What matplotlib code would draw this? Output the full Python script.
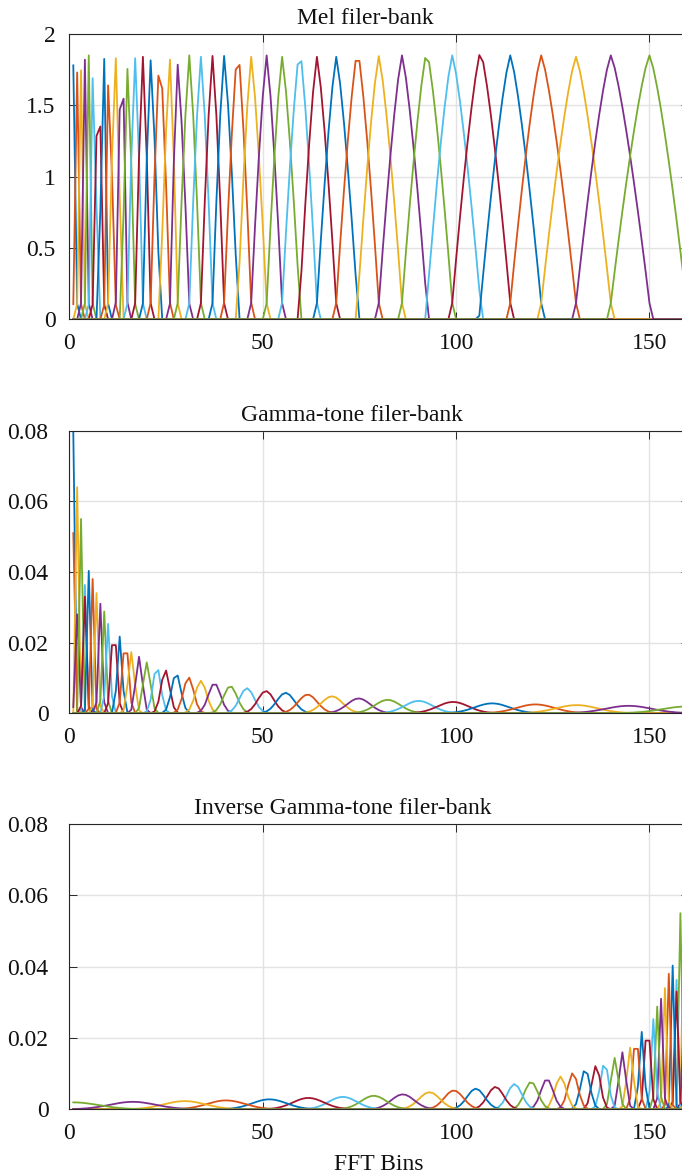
import numpy as np
import matplotlib
matplotlib.use("Agg")
import matplotlib.pyplot as plt

# FFT bin axis (MATLAB 1-based index)
BINS = np.arange(1, 162)

# Mel filters: apex bin and apex value
MEL_CENTER = [1, 2, 3, 4, 5, 6, 7.55, 9, 10, 12, 13.55, 15, 17, 19, 21, 23.4,
              26, 28, 31, 34, 37, 40, 43.55, 47, 51, 55, 59.55, 64, 69, 74.5,
              80, 86, 92.4, 99, 106.3, 114, 122, 131, 140, 150]
MEL_APEX = [1.78, 1.73, 1.745, 1.82, 1.85, 1.69, 1.7, 1.825, 1.64, 1.83, 1.945,
            1.755, 1.83, 1.84, 1.815, 1.88, 1.82, 1.785, 1.85, 1.84, 1.846,
            1.846, 1.91, 1.84, 1.85, 1.84, 1.9, 1.84, 1.84, 1.89, 1.845, 1.85,
            1.88, 1.85, 1.88, 1.85, 1.85, 1.84, 1.85, 1.85]
MEL_EDGES = (0.0, 159.6)      # outer feet of first / last filter
MEL_OVERLAP = 0.05            # feet reach a bit past the neighbour apex
MEL_BULGE = 1.3               # flanks are slightly rounded, not straight

# Gamma-tone filters: centre bin, peak, bandwidth (FWHM in bins)
GAMMA_CENTER = [1, 1, 2, 2, 3, 4, 4, 5, 6, 7, 8, 9, 10, 11.5, 13, 14.5, 16,
                18, 20, 22.6, 24.8, 27.6, 30.8, 34.0, 37.5, 41.6, 45.9, 50.8,
                55.9, 61.6, 67.9, 74.8, 82.3, 90.3, 99.2, 109.3, 120.5, 131.2,
                144.6, 160.0]
GAMMA_PEAK = [0.0795, 0.051, 0.064, 0.028, 0.055, 0.0363, 0.033, 0.0403,
              0.038, 0.034, 0.031, 0.0288, 0.0253, 0.0245, 0.0217, 0.021,
              0.0173, 0.016, 0.0144, 0.0132, 0.0123, 0.0113, 0.0102, 0.0092,
              0.0085, 0.0077, 0.0071, 0.0063, 0.0058, 0.0053, 0.0048, 0.0042,
              0.0038, 0.0035, 0.0032, 0.0028, 0.0025, 0.0023, 0.0021, 0.00195]
GAMMA_FWHM = [0.6, 0.7, 0.65, 1.0, 0.7, 0.9, 1.0, 0.85, 0.9, 1.0, 1.1, 1.15,
              1.3, 1.7, 1.5, 1.8, 1.9, 2.0, 2.2, 2.4, 2.6, 2.8, 3.1, 3.4, 3.7,
              4.1, 4.4, 4.9, 5.3, 5.8, 6.4, 7.0, 7.7, 8.5, 9.4, 10.4, 11.5,
              12.7, 14.0, 15.5]
MIRROR = 161                  # inverse bank = gamma-tone bank flipped in bins

TITLES = ["Mel filer-bank", "Gamma-tone filer-bank",
          "Inverse Gamma-tone filer-bank"]
TITLE_X = [0.479, 0.456, 0.441]

# MATLAB default colour order
COLORS = ["#0072BD", "#D95319", "#EDB120", "#7E2F8E",
          "#77AC30", "#4DBEEE", "#A2142F"]
AX_COLOR = "#262626"
GRID = "#e2e2e2"

plt.rcParams["font.family"] = ["Liberation Serif", "DejaVu Serif"]


def mel_bank():
    edges = [MEL_EDGES[0]] + list(MEL_CENTER) + [MEL_EDGES[1]]
    out = []
    for i, (c, h) in enumerate(zip(MEL_CENTER, MEL_APEX)):
        lo, hi = edges[i], edges[i + 2]
        l = lo - MEL_OVERLAP * (c - lo)
        r = hi + MEL_OVERLAP * (hi - c)
        t = np.where(BINS <= c, (BINS - l) / (c - l), (r - BINS) / (r - c))
        t = np.clip(t, 0, 1)
        out.append(h * (1 - (1 - t) ** MEL_BULGE))
    return out


def gamma_bank(centers):
    out = []
    for c, h, w in zip(centers, GAMMA_PEAK, GAMMA_FWHM):
        s = w / 2.355
        out.append(h * np.exp(-0.5 * ((BINS - c) / s) ** 2))
    return out


def style(ax, yticks, ylabels, ypad):
    ax.set_xlim(0, 160)
    ax.set_ylim(yticks[0], yticks[-1])
    ax.set_xticks([0, 50, 100, 150])
    ax.set_yticks(yticks)
    ax.set_yticklabels(ylabels)
    ax.grid(True, color=GRID, linewidth=1.0)
    ax.set_axisbelow(True)
    for s in ax.spines.values():
        s.set_color(AX_COLOR)
        s.set_linewidth(0.8)
    ax.tick_params(direction="in", length=5.4, width=0.7, top=True,
                   right=True, colors=AX_COLOR, labelsize=17,
                   labelcolor="#111111")
    ax.tick_params(axis="y", pad=ypad)
    ax.tick_params(axis="x", pad=10)


fig = plt.figure(figsize=(6.82, 11.76), dpi=100, facecolor="white")
left, width = 0.1018, 0.9072
boxes = [(0.7285, 0.2426), (0.3935, 0.2403), (0.0567, 0.2426)]
axes = [fig.add_axes([left, b, width, h]) for b, h in boxes]

banks = [mel_bank(),
         gamma_bank(GAMMA_CENTER),
         gamma_bank([MIRROR - c for c in GAMMA_CENTER])]

for k, (ax, bank) in enumerate(zip(axes, banks)):
    for i, resp in enumerate(bank):
        ax.plot(BINS, resp, color=COLORS[i % 7], linewidth=1.3)
    if k == 0:
        style(ax, [0, 0.5, 1, 1.5, 2], ["0", "0.5", "1", "1.5", "2"], 10)
    else:
        style(ax, [0, 0.02, 0.04, 0.06, 0.08],
              ["0", "0.02", "0.04", "0.06", "0.08"], 15)
    ax.set_title(TITLES[k], fontsize=17, color="#111111", x=TITLE_X[k], pad=7)

axes[2].set_xlabel("FFT Bins", fontsize=17, color="#111111", labelpad=7)

fig.savefig("out.png", dpi=100, facecolor="white")
